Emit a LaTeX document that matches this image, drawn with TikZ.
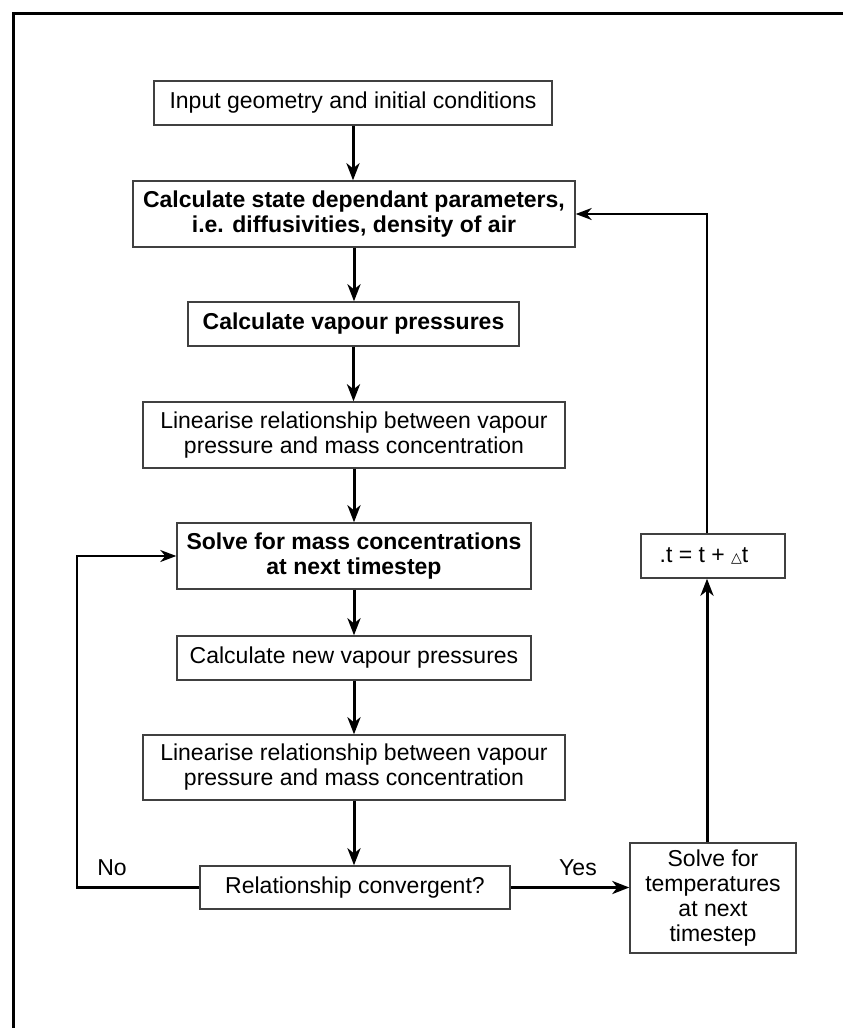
\documentclass[tikz,border=0pt]{standalone}
\usepackage{fontspec}
\setmainfont{Liberation Sans}
\newfontfamily\dejavu{DejaVu Sans}
\usetikzlibrary{arrows.meta}
\begin{document}
\begin{tikzpicture}[x=1pt,y=-1pt,
 box/.style={draw=black!75, line width=1.4pt, inner sep=0pt, align=center, font=\fontsize{23}{25}\selectfont},
 bbox/.style={box, font=\fontsize{23}{25}\selectfont\bfseries},
 flow/.style={line width=3pt, -{Stealth[length=17pt,width=13pt,inset=5pt]}},
 thinflow/.style={line width=2.2pt, -{Stealth[length=16pt,width=12pt,inset=5pt]}},
 lbl/.style={font=\fontsize{23}{25}\selectfont}]
\useasboundingbox (0,0) rectangle (843,1028);
\draw[line width=3pt] (13.5,1032) -- (13.5,13.5) -- (847,13.5);

\node[box, minimum width=398pt, minimum height=44pt] (b1) at (353,103) {Input geometry and initial conditions};
\node[bbox, minimum width=442pt, minimum height=66pt] (b2) at (354,214) {Calculate state dependant parameters,\\ i.e. diffusivities, density of air};
\node[bbox, minimum width=331pt, minimum height=44pt] (b3) at (353.5,324) {Calculate vapour pressures};
\node[box, minimum width=422pt, minimum height=66pt] (b4) at (354,435) {Linearise relationship between vapour\\ pressure and mass concentration};
\node[bbox, minimum width=354pt, minimum height=66pt] (b5) at (354,556) {Solve for mass concentrations\\ at next timestep};
\node[box, minimum width=354pt, minimum height=44pt] (b6) at (354,658) {Calculate new vapour pressures};
\node[box, minimum width=422pt, minimum height=65pt] (b7) at (354,767.5) {Linearise relationship between vapour\\ pressure and mass concentration};
\node[box, minimum width=310pt, minimum height=43pt] (b8) at (355,887.5) {Relationship convergent?};
\node[box, minimum width=166pt, minimum height=110pt] (b9) at (713,898) {Solve for\\ temperatures\\ at next\\ timestep};
\node[box, minimum width=144pt, minimum height=44pt] (b10) at (713,556) {\hspace*{-18pt}.t = t + {\dejavu\fontsize{14}{14}\selectfont △}t};

\coordinate (nl) at (77,887.5);
\node[lbl] (no) at (112,868) {No};
\node[lbl] (yes) at (578,868) {Yes};

\draw[flow] (b1.south) -- (b1.south |- b2.north);
\draw[flow] (b2.south) -- (b2.south |- b3.north);
\draw[flow] (b3.south) -- (b3.south |- b4.north);
\draw[flow] (b4.south) -- (b4.south |- b5.north);
\draw[flow] (b5.south) -- (b5.south |- b6.north);
\draw[flow] (b6.south) -- (b6.south |- b7.north);
\draw[flow] (b7.south) -- (b7.south |- b8.north);
\draw[thinflow] (b8.west) -- (nl) |- (b5.west);
\draw[flow] (b8.east) -- (b8.east -| b9.west);
\draw[flow] ([xshift=-6pt]b9.north) -- ([xshift=-6pt]b10.south);
\draw[thinflow] ([xshift=-6pt]b10.north) |- (b2.east);
\end{tikzpicture}
\end{document}
